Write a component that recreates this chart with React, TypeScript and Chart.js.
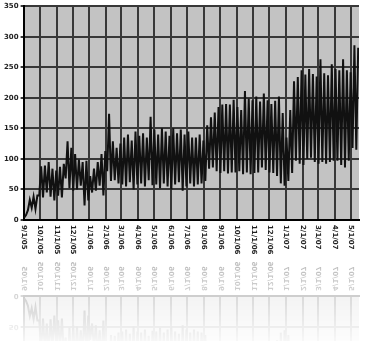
import React, { useEffect, useRef } from 'react';
import { Chart, registerables } from 'chart.js';

Chart.register(...registerables);

// Month tick labels (m/d/yy)
const monthLabels = [
  '9/1/05', '10/1/05', '11/1/05', '12/1/05', '1/1/06', '2/1/06', '3/1/06', '4/1/06',
  '5/1/06', '6/1/06', '7/1/06', '8/1/06', '9/1/06', '10/1/06', '11/1/06', '12/1/06',
  '1/1/07', '2/1/07', '3/1/07', '4/1/07', '5/1/07',
];
const lastDate = '5/16/07';
const yTicks = [0, 50, 100, 150, 200, 250, 300, 350];

// Weekly peaks (weekdays) and troughs (weekends), week 0 starting 9/1/05
const weekHigh = [
  8, 33, 38, 40, 88, 89, 95, 84, 81, 87, 92, 129, 118, 108, 99, 95, 97, 72, 84, 95,
  108, 113, 174, 129, 118, 125, 135, 140, 130, 145, 138, 142, 135, 169, 148, 140, 150, 145, 138, 150,
  142, 148, 140, 145, 135, 135, 140, 130, 155, 168, 176, 185, 189, 190, 189, 197, 185, 180, 211, 199,
  196, 202, 194, 207, 196, 190, 195, 202, 175, 135, 180, 227, 234, 245, 238, 247, 239, 235, 263, 240,
  237, 255, 247, 245, 263, 245, 242, 286, 282,
];
const weekLow = [
  4, 16, 20, 18, 40, 37, 45, 38, 32, 40, 37, 68, 52, 48, 50, 56, 24, 32, 45, 48,
  56, 40, 80, 64, 65, 60, 58, 55, 62, 50, 58, 60, 55, 65, 57, 58, 52, 60, 55, 50,
  58, 62, 48, 55, 60, 55, 58, 60, 64, 84, 86, 80, 77, 80, 76, 78, 78, 80, 75, 78,
  75, 77, 78, 86, 82, 78, 77, 72, 60, 56, 64, 77, 97, 92, 90, 100, 102, 95, 92, 95,
  92, 95, 97, 97, 90, 86, 97, 118, 115,
];

const DAY = 86400000;
function parseDate(s: string): number {
  const [m, d, y] = s.split('/').map(Number);
  return Date.UTC(2000 + y, m - 1, d);
}

const LABEL_FONT = 'bold 7px "DejaVu Sans"';

function buildConfig(): any {
  const start = parseDate(monthLabels[0]);
  const tickDays = monthLabels.map((l) => Math.round((parseDate(l) - start) / DAY));
  const maxDay = Math.round((parseDate(lastDate) - start) / DAY);
  const points: { x: number; y: number }[] = [];
  weekHigh.forEach((h, i) => {
    points.push({ x: i * 7 + 1, y: weekLow[i] });
    points.push({ x: i * 7 + 4.5, y: h });
  });

  const bgPlugin = {
    id: 'bg',
    beforeDraw(chart: any) {
      const { ctx, chartArea: a } = chart;
      ctx.save();
      ctx.fillStyle = '#c3c3c3';
      ctx.fillRect(a.left, a.top, a.right - a.left, a.bottom - a.top);
      ctx.restore();
    },
  };
  const labelPlugin = {
    id: 'xlabels',
    afterDraw(chart: any) {
      const { ctx, chartArea: a } = chart;
      const xs = chart.scales.x;
      ctx.save();
      ctx.font = LABEL_FONT;
      ctx.fillStyle = '#222';
      ctx.textAlign = 'left';
      ctx.textBaseline = 'middle';
      monthLabels.forEach((l, i) => {
        const px = xs.getPixelForValue(tickDays[i]);
        ctx.save();
        ctx.translate(px, a.bottom + 5);
        ctx.rotate(Math.PI / 2);
        ctx.fillText(l, 0, 0);
        ctx.restore();
      });
      ctx.restore();
    },
  };

  return {
    type: 'line',
    data: {
      datasets: [
        {
          data: points,
          borderColor: '#111',
          borderWidth: 2,
          pointRadius: 0,
          tension: 0,
          fill: false,
        },
      ],
    },
    options: {
      animation: false,
      responsive: false,
      maintainAspectRatio: false,
      layout: { padding: { left: 2, right: 11, top: -2, bottom: 38 } },
      plugins: { legend: { display: false }, tooltip: { enabled: false } },
      scales: {
        x: {
          type: 'linear',
          min: 0,
          max: maxDay,
          afterBuildTicks: (s: any) => {
            s.ticks = tickDays.map((v) => ({ value: v }));
          },
          ticks: { display: false },
          grid: { color: '#383838', lineWidth: 2, drawTicks: false },
          border: { display: true, color: '#000', width: 2 },
        },
        y: {
          min: 0,
          max: 350,
          afterBuildTicks: (s: any) => {
            s.ticks = yTicks.map((v) => ({ value: v }));
          },
          ticks: {
            font: { family: 'DejaVu Sans', size: 7, weight: 'bold' },
            color: '#222',
            padding: 2,
          },
          grid: { color: '#383838', lineWidth: 2, tickLength: 3 },
          border: { display: true, color: '#000', width: 2 },
        },
      },
    },
    plugins: [bgPlugin, labelPlugin],
  };
}

const W = 370;
const H = 258;
const REFLECT_H = 83;

export default function App() {
  const mainRef = useRef<HTMLCanvasElement>(null);
  const reflRef = useRef<HTMLCanvasElement>(null);

  useEffect(() => {
    document.body.style.margin = '0';
    const c1 = new Chart(mainRef.current as HTMLCanvasElement, buildConfig());
    const c2 = new Chart(reflRef.current as HTMLCanvasElement, buildConfig());
    return () => {
      c1.destroy();
      c2.destroy();
    };
  }, []);

  const mask = 'linear-gradient(to bottom, rgba(0,0,0,0.32), rgba(0,0,0,0.04))';
  return (
    <div style={{ width: W, background: '#fff' }}>
      <canvas ref={mainRef} width={W} height={H} style={{ display: 'block', width: W, height: H }} />
      <div
        style={{
          position: 'relative',
          height: REFLECT_H,
          overflow: 'hidden',
          WebkitMaskImage: mask,
          maskImage: mask,
        } as any}
      >
        <canvas
          ref={reflRef}
          width={W}
          height={H}
          style={{ display: 'block', width: W, height: H, transform: 'scaleY(-1)' }}
        />
      </div>
    </div>
  );
}
